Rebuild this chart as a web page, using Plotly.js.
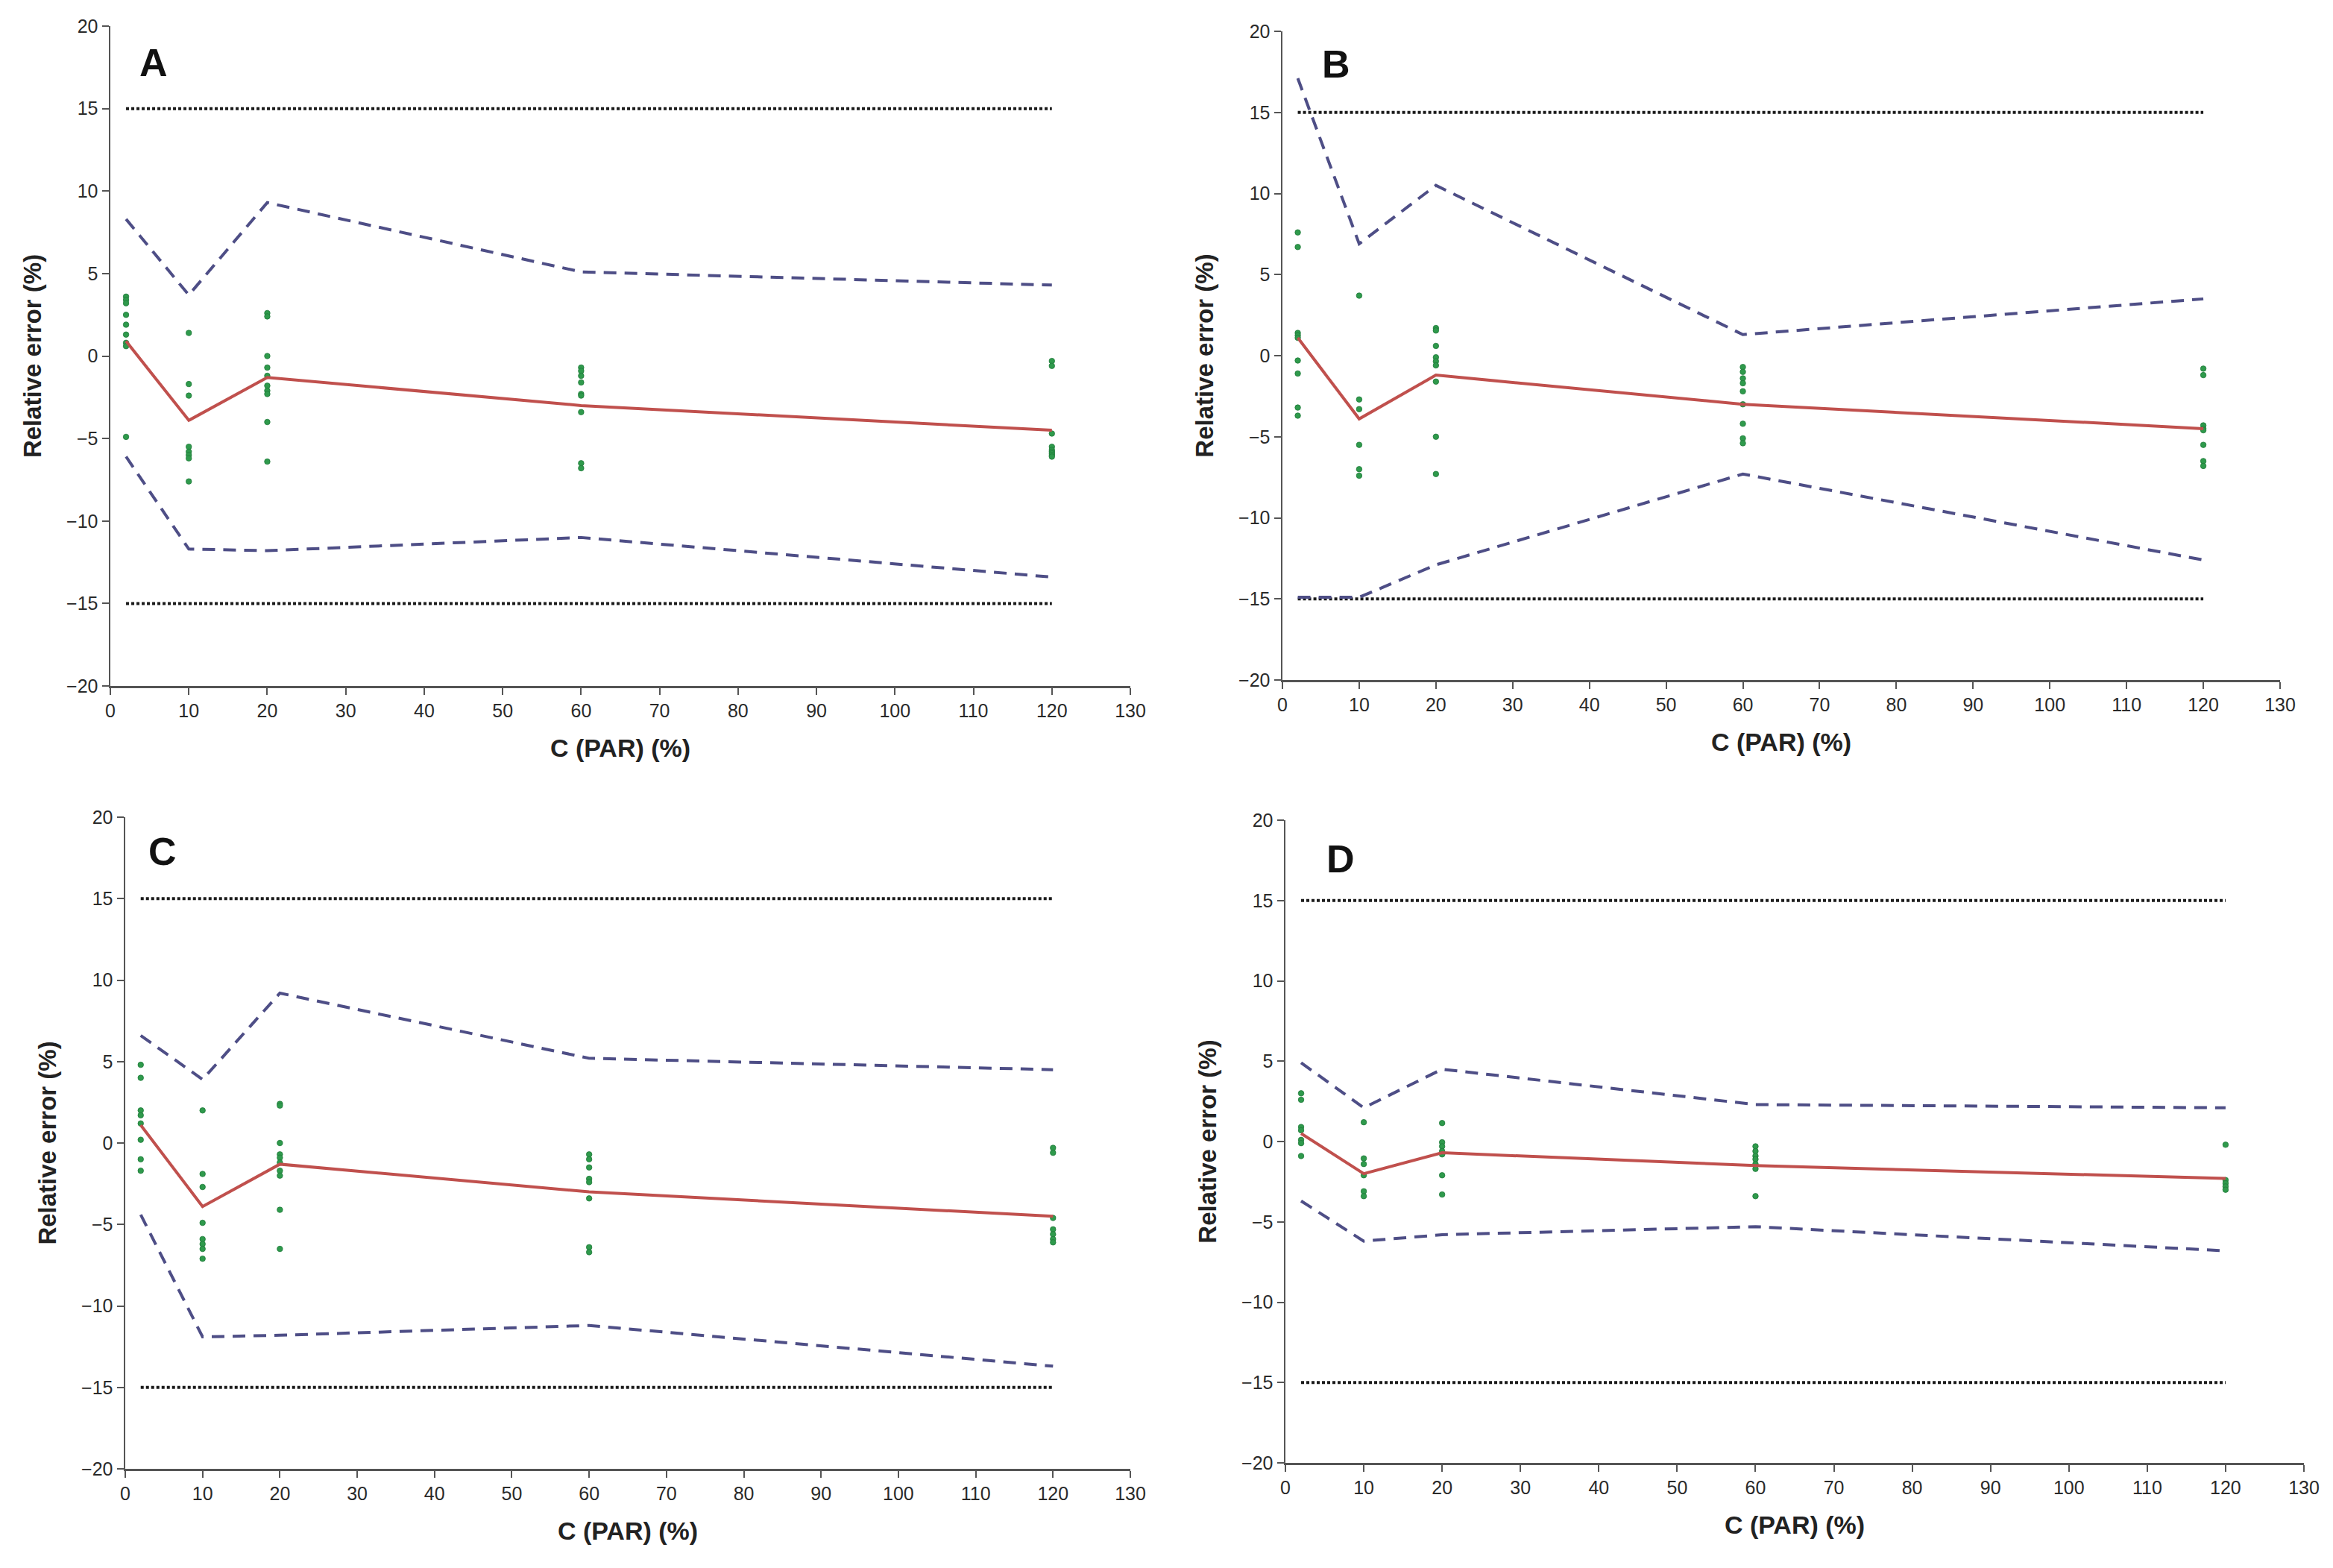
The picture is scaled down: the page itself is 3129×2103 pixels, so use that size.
<!DOCTYPE html>
<html>
<head>
<meta charset="utf-8">
<script src="https://cdn.plot.ly/plotly-3.0.1.min.js"></script>
<style>
  html, body { margin: 0; padding: 0; background: #ffffff; }
  #chart { width: 3129px; height: 2103px; }
</style>
</head>
<body>
<div id="chart"></div>
<script>
// ---------------- DATA ----------------
const conc = [2, 10, 20, 60, 120];
const panelLabels = ["A", "B", "C", "D"];
const xTitle = "C (PAR) (%)";
const yTitle = "Relative error (%)";
const acceptUpper = [15, 15, 15, 15, 15];
const acceptLower = [-15, -15, -15, -15, -15];

// Panel A
const meanA  = [0.9, -3.9, -1.3, -3.0, -4.5];
const upperA = [8.3, 3.7, 9.3, 5.1, 4.3];
const lowerA = [-6.1, -11.7, -11.8, -11.0, -13.4];
const ptsA = [
  [3.6, 3.4, 3.2, 2.5, 1.9, 1.3, 0.8, 0.6, -4.9],
  [1.4, -1.7, -2.4, -5.5, -5.8, -6.0, -6.2, -7.6],
  [2.6, 2.4, 0.0, -0.7, -1.2, -1.8, -2.1, -2.3, -4.0, -6.4],
  [-0.7, -0.9, -1.2, -1.6, -2.3, -2.4, -3.4, -6.5, -6.8],
  [-0.3, -0.6, -4.7, -5.5, -5.7, -5.8, -5.9, -6.0, -6.1]
];

// Panel B
const meanB  = [1.1, -3.9, -1.2, -3.0, -4.5];
const upperB = [17.1, 6.9, 10.5, 1.3, 3.5];
const lowerB = [-14.9, -14.9, -12.9, -7.3, -12.6];
const ptsB = [
  [7.6, 6.7, 1.4, 1.25, 1.1, -0.3, -1.1, -3.2, -3.7],
  [3.7, -2.7, -3.3, -5.5, -7.0, -7.4],
  [1.7, 1.55, 0.6, -0.1, -0.35, -0.6, -1.6, -5.0, -7.3],
  [-0.7, -1.0, -1.4, -1.7, -2.2, -3.0, -4.2, -5.1, -5.4],
  [-0.8, -1.2, -4.3, -4.5, -4.6, -5.5, -6.5, -6.8]
];

// Panel C
const meanC  = [1.1, -3.9, -1.3, -3.0, -4.5];
const upperC = [6.6, 3.9, 9.2, 5.2, 4.5];
const lowerC = [-4.4, -11.9, -11.8, -11.2, -13.7];
const ptsC = [
  [4.8, 4.0, 2.0, 1.7, 1.2, 0.2, -1.0, -1.7],
  [2.0, -1.9, -2.7, -4.9, -5.9, -6.2, -6.5, -7.1],
  [2.4, 2.3, 0.0, -0.7, -0.9, -1.2, -1.7, -2.0, -4.1, -6.5],
  [-0.7, -1.0, -1.5, -2.2, -2.4, -3.4, -6.4, -6.7],
  [-0.3, -0.6, -4.6, -5.3, -5.6, -5.9, -6.1]
];

// Panel D
const meanD  = [0.5, -2.0, -0.7, -1.5, -2.3];
const upperD = [4.9, 2.1, 4.5, 2.3, 2.1];
const lowerD = [-3.7, -6.2, -5.8, -5.3, -6.8];
const ptsD = [
  [3.0, 2.6, 0.9, 0.7, 0.1, -0.1, -0.9],
  [1.2, -1.05, -1.4, -2.1, -3.1, -3.4],
  [1.15, -0.05, -0.3, -0.6, -0.8, -2.1, -3.3],
  [-0.3, -0.6, -0.9, -1.1, -1.4, -1.7, -3.4],
  [-0.2, -2.4, -2.6, -2.8, -3.0]
];

// ---------------- STYLE / LAYOUT ----------------
const W = 3129, H = 2103;
const boxes = [ // [x0,x1,y0(top),y1(bottom)] in pixels
  [148, 1516, 35, 920],
  [1720, 3058, 42, 912],
  [168, 1516, 1096, 1970],
  [1724, 3090, 1100, 1962]
];
const labelPos = [[206, 84], [1792, 86], [218, 1142], [1798, 1152]];
const panels = [
  {mean: meanA, up: upperA, lo: lowerA, pts: ptsA},
  {mean: meanB, up: upperB, lo: lowerB, pts: ptsB},
  {mean: meanC, up: upperC, lo: lowerC, pts: ptsC},
  {mean: meanD, up: upperD, lo: lowerD, pts: ptsD}
];

const traces = [];
const layout = {
  width: W, height: H,
  margin: {l: 0, r: 0, t: 0, b: 0},
  paper_bgcolor: "#ffffff", plot_bgcolor: "#ffffff",
  showlegend: false,
  annotations: []
};

const tickFont = {family: "Liberation Sans Narrow, Liberation Sans, Arial", size: 25, color: "#2a2a2a"};

panels.forEach((p, i) => {
  const n = i + 1;
  const xa = "x" + (n === 1 ? "" : n), ya = "y" + (n === 1 ? "" : n);
  const b = boxes[i];
  layout["xaxis" + (n === 1 ? "" : n)] = {
    domain: [b[0] / W, b[1] / W], anchor: ya,
    range: [0, 130], dtick: 10, tick0: 0,
    showgrid: false, zeroline: false,
    showline: true, linecolor: "#555555", linewidth: 2.5,
    ticks: "outside", ticklen: 9, tickwidth: 2, tickcolor: "#555555",
    tickfont: tickFont,
    title: {text: xTitle, standoff: 26,
      font: {family: "Liberation Sans Narrow, Liberation Sans, Arial", size: 34, color: "#222222", weight: "bold"}}
  };
  layout["yaxis" + (n === 1 ? "" : n)] = {
    domain: [1 - b[3] / H, 1 - b[2] / H], anchor: xa,
    range: [-20, 20], dtick: 5, tick0: 0,
    showgrid: false, zeroline: false,
    showline: true, linecolor: "#555555", linewidth: 2.5,
    ticks: "outside", ticklen: 9, tickwidth: 2, tickcolor: "#555555",
    tickfont: tickFont,
    title: {text: yTitle, standoff: 24,
      font: {family: "Liberation Sans, Arial", size: 33, color: "#222222", weight: "bold"}}
  };
  // acceptance limits
  [acceptUpper, acceptLower].forEach(arr => traces.push({
    x: conc, y: arr, xaxis: xa, yaxis: ya, mode: "lines", hoverinfo: "skip",
    line: {color: "#1a1a1a", width: 4, dash: "4px,3px"}
  }));
  // confidence bounds
  [p.up, p.lo].forEach(arr => traces.push({
    x: conc, y: arr, xaxis: xa, yaxis: ya, mode: "lines",
    line: {color: "#4e4e86", width: 4, dash: "17px,11px"}
  }));
  // individual points
  const px = [], py = [];
  p.pts.forEach((vals, k) => vals.forEach(v => { px.push(conc[k]); py.push(v); }));
  traces.push({
    x: px, y: py, xaxis: xa, yaxis: ya, mode: "markers",
    marker: {color: "#2f9a4c", size: 7.5, symbol: "circle",
      line: {color: "#1f7a3a", width: 0.8}}
  });
  // mean line
  traces.push({
    x: conc, y: p.mean, xaxis: xa, yaxis: ya, mode: "lines",
    line: {color: "#c0504d", width: 4}
  });
  // panel letter
  const bold = i < 2;
  layout.annotations.push({
    xref: "paper", yref: "paper", x: labelPos[i][0] / W, y: 1 - labelPos[i][1] / H,
    xanchor: "center", yanchor: "middle", showarrow: false,
    text: panelLabels[i],
    font: {family: bold ? "Liberation Sans, Arial" : "Liberation Sans Narrow, Liberation Sans", size: 52,
      color: "#111111", weight: "bold"}
  });
});

Plotly.newPlot("chart", traces, layout, {displayModeBar: false, staticPlot: true});
</script>
</body>
</html>
